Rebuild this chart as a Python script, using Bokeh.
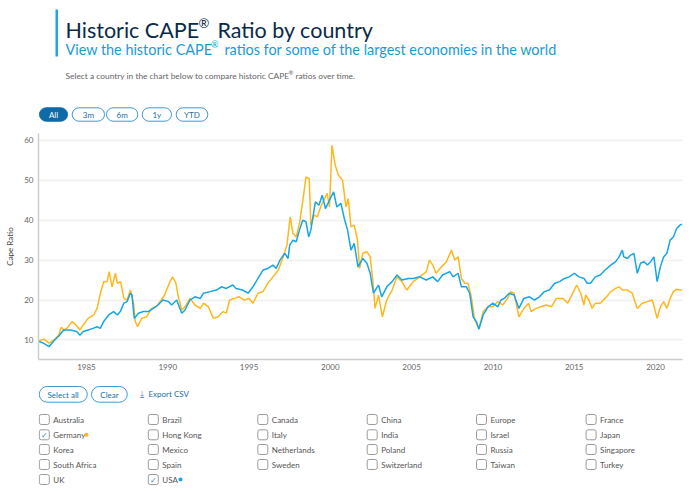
from bokeh.plotting import figure
from bokeh.models import Label, BoxAnnotation, FixedTicker, Range1d
from bokeh.layouts import column
from bokeh.embed import file_html
from bokeh.resources import INLINE

# ---------------- data ----------------
usa_years = [1982.08, 1982.35, 1982.7, 1983.0, 1983.3, 1983.6, 1984.0, 1984.4, 1984.6, 1984.8,
             1985.1, 1985.4, 1985.65, 1985.85, 1986.06, 1986.37, 1986.67, 1986.9, 1987.08, 1987.3,
             1987.5, 1987.7, 1987.8, 1987.94, 1988.2, 1988.5, 1988.8, 1989.1, 1989.4, 1989.7,
             1990.04, 1990.24, 1990.55, 1990.86, 1991.06, 1991.37, 1991.67, 1992.0, 1992.2, 1992.6,
             1993.0, 1993.3, 1993.6, 1994.0, 1994.2, 1994.6, 1994.94, 1995.24, 1995.55, 1995.86,
             1996.16, 1996.47, 1996.67, 1996.9, 1997.2, 1997.4, 1997.5, 1997.7, 1997.9, 1998.1,
             1998.3, 1998.5, 1998.67, 1998.8, 1999.08, 1999.3, 1999.5, 1999.7, 1999.9, 2000.2,
             2000.4, 2000.65, 2000.86, 2001.06, 2001.27, 2001.47, 2001.7, 2002.0, 2002.25, 2002.45,
             2002.65, 2002.96, 2003.16, 2003.47, 2003.8, 2004.1, 2004.4, 2004.8, 2005.1, 2005.5,
             2005.9, 2006.3, 2006.6, 2006.9, 2007.35, 2007.55, 2007.86, 2008.06, 2008.37, 2008.57,
             2008.78, 2008.98, 2009.14, 2009.4, 2009.7, 2010.0, 2010.3, 2010.5, 2010.7, 2011.0,
             2011.3, 2011.6, 2011.9, 2012.25, 2012.55, 2012.86, 2013.16, 2013.47, 2013.8, 2014.1,
             2014.4, 2014.7, 2015.0, 2015.3, 2015.6, 2015.8, 2016.0, 2016.3, 2016.6, 2016.9,
             2017.25, 2017.55, 2017.76, 2017.96, 2018.05, 2018.27, 2018.47, 2018.67, 2018.88, 2019.08,
             2019.3, 2019.5, 2019.7, 2019.9, 2020.1, 2020.3, 2020.5, 2020.7, 2020.9, 2021.1,
             2021.3, 2021.5, 2021.64]
usa_cape = [9.6, 9.2, 8.3, 9.8, 11.0, 12.5, 12.5, 12.1, 11.2, 12.1,
            12.5, 12.9, 13.3, 12.9, 14.6, 16.25, 17.1, 16.25, 17.1, 19.2,
            19.6, 21.7, 21.3, 15.4, 16.7, 17.1, 17.1, 17.9, 18.75, 20.0,
            19.6, 18.75, 20.0, 16.7, 17.5, 20.0, 20.8, 20.4, 21.7, 22.1,
            22.5, 23.3, 22.9, 23.75, 22.9, 22.5, 21.7, 23.3, 25.4, 27.5,
            27.9, 28.75, 27.9, 30.0, 31.7, 30.4, 33.75, 35.0, 34.6, 37.5,
            40.0, 39.6, 35.8, 37.5, 44.6, 43.75, 46.25, 42.9, 44.6, 47.1,
            43.3, 44.2, 40.4, 37.5, 32.5, 34.2, 28.3, 30.4, 29.2, 26.7,
            21.7, 23.75, 20.8, 23.3, 24.6, 26.25, 25.0, 25.4, 25.4, 25.8,
            25.0, 25.8, 24.6, 26.25, 27.1, 25.8, 26.7, 23.3, 23.3, 21.7,
            15.8, 14.6, 12.7, 16.25, 18.3, 19.2, 18.3, 20.0, 20.4, 21.7,
            21.25, 17.9, 20.4, 20.8, 20.0, 20.8, 22.1, 22.5, 24.2, 24.6,
            25.4, 25.8, 26.7, 25.8, 25.4, 24.2, 24.2, 25.8, 26.25, 27.5,
            28.75, 29.6, 30.8, 32.5, 30.8, 30.4, 31.25, 31.7, 26.7, 29.2,
            29.6, 28.75, 29.6, 30.8, 24.6, 28.3, 30.8, 31.7, 35.0, 35.8,
            37.9, 38.75, 39.0]

ger_years = [1982.08, 1982.4, 1982.7, 1983.0, 1983.3, 1983.45, 1983.6, 1983.8, 1984.1, 1984.3,
             1984.6, 1984.8, 1985.1, 1985.45, 1985.65, 1985.86, 1986.06, 1986.27, 1986.4, 1986.57,
             1986.78, 1986.9, 1987.1, 1987.3, 1987.5, 1987.7, 1987.9, 1988.0, 1988.14, 1988.4,
             1988.7, 1989.0, 1989.3, 1989.6, 1989.8, 1990.14, 1990.3, 1990.5, 1990.65, 1990.86,
             1991.06, 1991.37, 1991.67, 1992.0, 1992.2, 1992.5, 1992.8, 1993.1, 1993.4, 1993.6,
             1993.8, 1994.1, 1994.4, 1994.7, 1995.0, 1995.24, 1995.55, 1995.86, 1996.16, 1996.47,
             1996.8, 1997.1, 1997.33, 1997.53, 1997.7, 1997.9, 1998.1, 1998.3, 1998.5, 1998.7,
             1998.8, 1999.0, 1999.2, 1999.4, 1999.6, 1999.8, 1999.95, 2000.1, 2000.3, 2000.5,
             2000.75, 2000.96, 2001.1, 2001.27, 2001.47, 2001.67, 2001.8, 2002.0, 2002.25, 2002.45,
             2002.6, 2002.75, 2002.96, 2003.2, 2003.47, 2003.8, 2004.1, 2004.4, 2004.7, 2005.1,
             2005.5, 2005.9, 2006.1, 2006.3, 2006.5, 2006.84, 2007.14, 2007.45, 2007.65, 2007.86,
             2008.06, 2008.27, 2008.47, 2008.67, 2008.88, 2009.14, 2009.4, 2009.7, 2010.0, 2010.3,
             2010.6, 2010.9, 2011.1, 2011.3, 2011.6, 2011.9, 2012.2, 2012.35, 2012.65, 2012.96,
             2013.27, 2013.6, 2013.9, 2014.3, 2014.6, 2014.8, 2015.0, 2015.15, 2015.4, 2015.6,
             2015.7, 2015.9, 2016.1, 2016.3, 2016.6, 2016.9, 2017.25, 2017.55, 2017.76, 2017.96,
             2018.27, 2018.57, 2018.88, 2019.18, 2019.5, 2019.8, 2020.1, 2020.3, 2020.5, 2020.7,
             2020.9, 2021.1, 2021.3, 2021.5, 2021.64]
ger_cape = [9.8, 10.2, 9.2, 10.0, 11.25, 13.2, 12.5, 12.9, 14.6, 14.0,
            12.5, 13.75, 15.4, 16.25, 17.9, 21.7, 24.6, 24.6, 27.1, 23.3,
            26.7, 24.2, 24.6, 20.4, 20.0, 22.5, 19.2, 14.6, 13.3, 15.4,
            15.8, 17.9, 18.3, 20.0, 21.25, 24.6, 25.8, 24.2, 20.8, 17.5,
            18.3, 20.4, 18.75, 17.9, 19.2, 18.3, 15.4, 15.8, 17.1, 16.7,
            20.0, 20.4, 20.8, 20.0, 20.4, 19.2, 21.7, 22.1, 24.2, 25.8,
            27.5, 30.8, 33.75, 40.8, 36.7, 35.8, 39.2, 44.6, 50.8, 50.4,
            38.75, 41.25, 40.8, 43.3, 45.0, 46.7, 43.3, 58.75, 53.75, 51.25,
            50.0, 43.3, 45.4, 38.3, 38.75, 35.0, 27.9, 31.7, 32.1, 30.8,
            25.4, 17.9, 21.25, 15.8, 20.0, 22.5, 25.8, 24.6, 22.5, 24.6,
            25.8, 27.1, 30.0, 28.75, 26.7, 28.3, 29.6, 32.5, 30.0, 30.8,
            25.4, 24.2, 24.2, 20.8, 15.0, 12.9, 17.1, 18.3, 18.3, 19.6,
            18.75, 20.4, 22.1, 21.7, 15.8, 17.9, 19.2, 17.1, 17.9, 18.3,
            18.75, 18.3, 20.4, 20.4, 19.2, 20.8, 22.5, 23.75, 21.7, 18.75,
            21.25, 20.0, 17.9, 19.2, 19.2, 20.4, 22.1, 22.9, 23.3, 22.5,
            22.5, 21.7, 17.9, 19.2, 19.6, 20.0, 15.4, 18.3, 19.6, 17.9,
            20.4, 22.1, 22.7, 22.5, 22.5]

x_ticks = [1985, 1990, 1995, 2000, 2005, 2010, 2015, 2020]
y_ticks = [10, 20, 30, 40, 50, 60]
range_buttons = ["All", "3m", "6m", "1y", "YTD"]
countries = [
    ["Australia", "Brazil", "Canada", "China", "Europe", "France"],
    ["Germany", "Hong Kong", "Italy", "India", "Israel", "Japan"],
    ["Korea", "Mexico", "Netherlands", "Poland", "Russia", "Singapore"],
    ["South Africa", "Spain", "Sweden", "Switzerland", "Taiwan", "Turkey"],
    ["UK", "USA"],
]
selected = {"Germany": "#FFB81C", "USA": "#14A6E6"}

# ---------------- layout constants ----------------
W = 690
HEAD_H = 125           # header panel: page y 0..125
CHART_TOP = 125        # chart panel: page y 125..378
CHART_H = 253
FOOT_TOP = 378         # footer panel: page y 378..491
FOOT_H = 113
FL, FR, FT, FB = 38, 682, 133, 359
FONT = "Lato"


def panel(h):
    # frame aligned with the chart frame; data coords == page pixels
    f = figure(width=W, height=h, x_range=Range1d(FL, FR), y_range=Range1d(h, 0),
               output_backend="svg", toolbar_location=None,
               x_axis_location=None, y_axis_location=None,
               min_border_left=FL, min_border_right=W - FR,
               min_border_top=0, min_border_bottom=0)
    f.outline_line_color = None
    f.xgrid.visible = False
    f.ygrid.visible = False
    f.background_fill_color = "white"
    f.border_fill_color = "white"
    return f


def box(f, top, x0, y0, x1, y1, fill=None, line=None, lw=1.0, radius=0):
    f.add_layout(BoxAnnotation(
        left=x0, right=x1, top=y0 - top, bottom=y1 - top,
        fill_color=fill if fill else "white", fill_alpha=1.0 if fill else 0.0,
        line_color=line if line else "white", line_alpha=1.0 if line else 0.0, line_width=lw,
        border_radius=radius, level="overlay"))


def text(f, top, x, y, s, size, color, align="left", baseline="middle", font=FONT):
    f.add_layout(Label(x=x, y=y - top, text=s,
                       text_font_size=f"{size}px", text_color=color, text_align=align,
                       text_baseline=baseline, text_font=font, level="overlay"))


# ---------------- header ----------------
hd = panel(HEAD_H)
box(hd, 0, 55, 9, 57.5, 56, fill="#1AA7E4")
text(hd, 0, 65, 29.3, "Historic CAPE", 21.5, "#0B2A4A", baseline="alphabetic")
text(hd, 0, 198, 22, "®", 13, "#0B2A4A", baseline="alphabetic")
text(hd, 0, 217, 29.3, "Ratio by country", 21.5, "#0B2A4A", baseline="alphabetic")
text(hd, 0, 65, 49, "View the historic CAPE", 14.4, "#1C9AD6", baseline="alphabetic")
text(hd, 0, 210.5, 44, "®", 9, "#1C9AD6", baseline="alphabetic")
text(hd, 0, 224, 49, "ratios for some of the largest economies in the world", 14.4, "#1C9AD6",
     baseline="alphabetic")
text(hd, 0, 65, 75.3, "Select a country in the chart below to compare historic CAPE", 8.4, "#666666",
     baseline="alphabetic")
text(hd, 0, 288, 72, "®", 6, "#666666", baseline="alphabetic")
text(hd, 0, 295, 75.3, "ratios over time.", 8.4, "#666666", baseline="alphabetic")

btn_x = [(39, 67), (71.7, 104), (106, 137.3), (141.7, 171), (175.7, 207.3)]
for lab, (x0, x1) in zip(range_buttons, btn_x):
    if lab == "All":
        box(hd, 0, x0, 107.3, x1, 120.7, fill="#0F6BA8", line="#0F6BA8", radius=7)
        text(hd, 0, (x0 + x1) / 2, 114.2, lab, 8, "white", align="center")
    else:
        box(hd, 0, x0, 107.3, x1, 120.7, fill="white", line="#3D9AD1", radius=7)
        text(hd, 0, (x0 + x1) / 2, 114.2, lab, 8, "#1C6EA4", align="center")

# ---------------- chart ----------------
p = figure(width=W, height=CHART_H, x_range=Range1d(1982.05, 2021.66), y_range=Range1d(5.1, 61.7),
           output_backend="svg", toolbar_location=None,
           min_border_left=FL, min_border_right=W - FR,
           min_border_top=FT - CHART_TOP, min_border_bottom=CHART_TOP + CHART_H - FB)
p.outline_line_color = None
p.background_fill_color = "white"
p.border_fill_color = "white"

p.line(ger_years, ger_cape, line_color="#FFB81C", line_width=1.5)
p.line(usa_years, usa_cape, line_color="#14A6E6", line_width=1.5)

p.xaxis.ticker = FixedTicker(ticks=x_ticks)
p.yaxis.ticker = FixedTicker(ticks=y_ticks)
for ax in (p.xaxis, p.yaxis):
    ax.major_tick_line_color = None
    ax.minor_tick_line_color = None
    ax.major_tick_out = 0
    ax.major_tick_in = 0
    ax.axis_line_color = "#cccccc"
    ax.axis_line_width = 1.5
    ax.major_label_text_font_size = "8px"
    ax.major_label_text_color = "#666666"
    ax.major_label_text_font = FONT
p.xaxis.major_label_standoff = 4
p.yaxis.major_label_standoff = 5
p.yaxis.axis_label = "Cape Ratio"
p.yaxis.axis_label_text_font_size = "8px"
p.yaxis.axis_label_text_font_style = "normal"
p.yaxis.axis_label_text_color = "#444444"
p.yaxis.axis_label_text_font = FONT
p.yaxis.axis_label_standoff = 6
p.xgrid.grid_line_color = None
p.ygrid.grid_line_color = "#f0f0f0"
p.ygrid.grid_line_width = 1.5

# ---------------- footer ----------------
ft = panel(FOOT_H)
T = FOOT_TOP
box(ft, T, 38.8, 386, 86.8, 401.7, fill="white", line="#3D9AD1", radius=8)
text(ft, T, 62.6, 394, "Select all", 8, "#1C6EA4", align="center")
box(ft, T, 91, 386, 126.8, 401.7, fill="white", line="#3D9AD1", radius=8)
text(ft, T, 109, 394, "Clear", 8, "#1C6EA4", align="center")
text(ft, T, 141, 393.5, "⤓", 9, "#3D9AD1", align="center", font="DejaVu Sans")
text(ft, T, 148, 393.5, "Export CSV", 8, "#1C6EA4")

col_x = [38.8, 147.8, 257.3, 366.7, 476, 585.6]
row_y = [419, 434.3, 449, 464, 479]
dot_x = {"Germany": 86, "USA": 180}
for r, row in enumerate(countries):
    for c, name in enumerate(row):
        x0, yc = col_x[c], row_y[r]
        box(ft, T, x0, yc - 5, x0 + 10, yc + 5, fill="white", line="#9a9a9a", radius=2)
        text(ft, T, x0 + 14, yc, name, 8, "#555555")
        if name in selected:
            text(ft, T, x0 + 5, yc + 0.5, "✓", 8, "#2E8BC9", align="center", font="DejaVu Sans")
            dx = dot_x[name]
            box(ft, T, dx - 2, yc - 2, dx + 2, yc + 2, fill=selected[name], radius=2)

layout = column(hd, p, ft, spacing=0)
open("out.html", "w").write(file_html(layout, INLINE))
